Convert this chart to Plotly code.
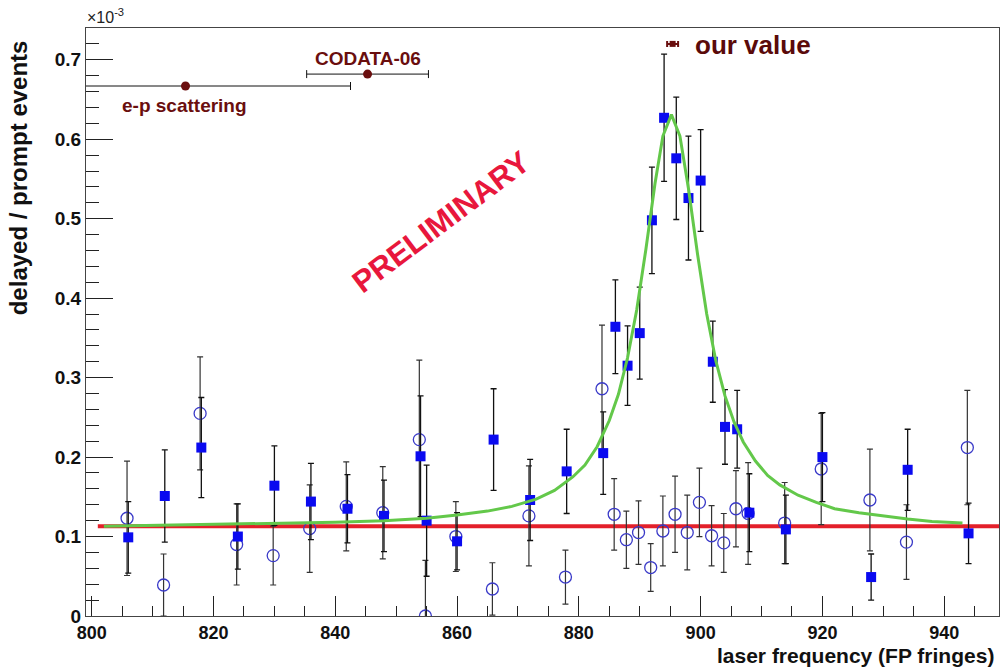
import plotly.graph_objects as go

# ---------------- data (units of 1e-3) ----------------
sq_x = [806, 812, 818, 824, 830, 836, 842, 848, 854, 855, 860, 866, 872, 878, 884, 886,
        888, 890, 892, 894, 896, 898, 900, 902, 904, 906, 908, 914, 920, 928, 934, 944]
sq_y = [0.099, 0.151, 0.212, 0.100, 0.164, 0.144, 0.135, 0.126, 0.201, 0.120, 0.094, 0.222,
        0.146, 0.182, 0.205, 0.364, 0.315, 0.356, 0.498, 0.627, 0.576, 0.526, 0.548, 0.320,
        0.238, 0.235, 0.130, 0.109, 0.200, 0.049, 0.184, 0.104]
sq_err = [0.045, 0.058, 0.063, 0.041, 0.050, 0.048, 0.043, 0.045, 0.076, 0.070, 0.036, 0.064,
          0.051, 0.053, 0.052, 0.059, 0.050, 0.058, 0.067, 0.080, 0.077, 0.078, 0.064, 0.051,
          0.047, 0.049, 0.049, 0.043, 0.056, 0.029, 0.051, 0.038]

ci_x = [805.8, 811.8, 817.8, 823.8, 829.8, 835.8, 841.8, 847.8, 853.8, 854.8, 859.8, 865.8,
        871.8, 877.8, 883.8, 885.8, 887.8, 889.8, 891.8, 893.8, 895.8, 897.8, 899.8, 901.8,
        903.8, 905.8, 907.8, 913.8, 919.8, 927.8, 933.8, 943.8]
ci_y = [0.123, 0.039, 0.255, 0.090, 0.076, 0.110, 0.138, 0.130, 0.222, 0.000, 0.100, 0.034,
        0.126, 0.049, 0.286, 0.128, 0.096, 0.105, 0.061, 0.107, 0.128, 0.105, 0.143, 0.101,
        0.092, 0.135, 0.129, 0.117, 0.185, 0.146, 0.093, 0.212]
ci_err = [0.072, 0.039, 0.071, 0.051, 0.037, 0.055, 0.056, 0.058, 0.100, 0.070, 0.044, 0.033,
          0.063, 0.034, 0.080, 0.045, 0.036, 0.040, 0.030, 0.044, 0.048, 0.047, 0.043, 0.038,
          0.037, 0.048, 0.064, 0.051, 0.070, 0.064, 0.047, 0.072]

fit_x = [802, 810, 820, 830, 840, 848, 855, 860, 865, 869, 873, 876, 879, 881, 883, 885,
         886.5, 888, 889.5, 891, 892.5, 893.8, 895.2, 896.6, 898, 899.5, 901, 902.5, 904,
         905.5, 907, 909, 911, 913, 916, 919, 922, 926, 930, 934, 938, 943]
fit_y = [0.113, 0.114, 0.115, 0.116, 0.118, 0.120, 0.123, 0.127, 0.132, 0.138, 0.147, 0.158,
         0.175, 0.190, 0.213, 0.246, 0.279, 0.325, 0.385, 0.461, 0.544, 0.604, 0.631, 0.604,
         0.538, 0.455, 0.380, 0.321, 0.277, 0.244, 0.219, 0.195, 0.177, 0.165, 0.152, 0.143,
         0.135, 0.130, 0.126, 0.122, 0.119, 0.117]

bg_x = [801, 949]
bg_y = [0.113, 0.113]

ref_x = [815.4, 845.3, 895.4]
ref_y = [0.667, 0.682, 0.720]
ref_err_plus = [27.1, 10.0, 0.9]
ref_err_minus = [27.1, 10.0, 0.9]

FONT = "Liberation Sans, Arial, Helvetica, sans-serif"
DARKRED = "#6a0e0e"

fig = go.Figure()

fig.add_trace(go.Scatter(x=bg_x, y=bg_y, mode="lines",
                         line=dict(color="#e3202a", width=4), hoverinfo="skip"))

fig.add_trace(go.Scatter(x=ci_x, y=ci_y, mode="markers",
                         marker=dict(symbol="circle-open", size=12, color="#3a3ac8",
                                     line=dict(width=1.3, color="#3a3ac8")),
                         error_y=dict(type="data", array=ci_err, visible=True,
                                      color="#333333", thickness=1.2, width=3)))

fig.add_trace(go.Scatter(x=sq_x, y=sq_y, mode="markers",
                         marker=dict(symbol="square", size=10, color="#0a0af0",
                                     line=dict(width=0)),
                         error_y=dict(type="data", array=sq_err, visible=True,
                                      color="#111111", thickness=1.3, width=3)))

fig.add_trace(go.Scatter(x=fit_x, y=fit_y, mode="lines",
                         line=dict(color="#63c84a", width=3), hoverinfo="skip"))

fig.add_trace(go.Scatter(x=ref_x[:2], y=ref_y[:2], mode="markers",
                         marker=dict(symbol="circle", size=9, color=DARKRED),
                         error_x=dict(type="data", array=ref_err_plus[:2],
                                      arrayminus=ref_err_minus[:2], visible=True,
                                      color="#111111", thickness=1, width=4)))
fig.add_trace(go.Scatter(x=ref_x[2:], y=ref_y[2:], mode="markers",
                         marker=dict(symbol="square", size=6, color=DARKRED),
                         error_x=dict(type="data", array=ref_err_plus[2:],
                                      arrayminus=ref_err_minus[2:], visible=True,
                                      color=DARKRED, thickness=2, width=3)))


def bold(size, color):
    return dict(family=FONT, size=size, color=color, weight="bold")


annotations = [
    dict(x=815.3, y=0.643, xref="x", yref="y", text="e-p scattering", showarrow=False,
         font=bold(19, DARKRED), xanchor="center", yanchor="middle"),
    dict(x=845.4, y=0.702, xref="x", yref="y", text="CODATA-06", showarrow=False,
         font=bold(19, DARKRED), xanchor="center", yanchor="middle"),
    dict(x=898.8, y=0.718, xref="x", yref="y", text="our value", showarrow=False,
         font=bold(26, "#5a0a0a"), xanchor="left", yanchor="middle"),
    dict(x=857.5, y=0.496, xref="x", yref="y", text="PRELIMINARY", showarrow=False,
         textangle=-37, font=bold(31, "#e8173c"), xanchor="center", yanchor="middle"),
    dict(x=-0.001, y=1.0, xref="paper", yref="paper", text="×10<sup>-3</sup>", showarrow=False,
         font=dict(family=FONT, size=16, color="#222222"), xanchor="left", yanchor="bottom"),
    dict(x=-0.073, y=0.745, xref="paper", yref="paper", text="delayed / prompt events",
         showarrow=False, textangle=-90, font=bold(24, "#111111"),
         xanchor="center", yanchor="middle"),
    dict(x=0.997, y=-0.068, xref="paper", yref="paper", text="laser frequency (FP fringes)",
         showarrow=False, font=bold(21, "#111111"), xanchor="right", yanchor="middle"),
]

fig.update_layout(
    width=1005, height=667,
    margin=dict(l=86, r=6, t=28, b=51),
    paper_bgcolor="white", plot_bgcolor="white",
    showlegend=False,
    font=dict(family=FONT, color="#111111"),
    annotations=annotations,
    xaxis=dict(range=[799.06, 949.0], showgrid=False, zeroline=False,
               showline=True, mirror=True, linecolor="#444444", linewidth=1.3,
               ticks="inside", ticklen=20, tickwidth=1, tickcolor="#222222",
               tick0=800, dtick=20,
               minor=dict(ticks="inside", ticklen=10, dtick=5, tickcolor="#222222", showgrid=False),
               tickfont=bold(18, "#111111")),
    yaxis=dict(range=[0, 0.74], showgrid=False, zeroline=False,
               showline=True, mirror=True, linecolor="#444444", linewidth=1.3,
               ticks="inside", ticklen=27, tickwidth=1, tickcolor="#222222",
               tick0=0, dtick=0.1,
               minor=dict(ticks="inside", ticklen=13, dtick=0.02, tickcolor="#222222", showgrid=False),
               tickfont=bold(19, "#111111")),
)

fig.write_html("out.html")
